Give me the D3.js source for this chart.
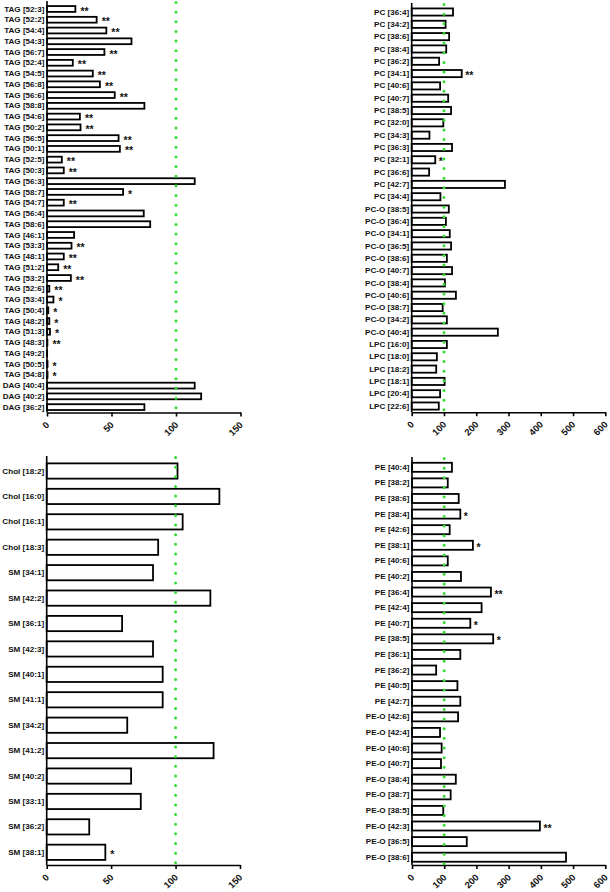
<!DOCTYPE html>
<html>
<head>
<meta charset="utf-8">
<script src="https://cdn.jsdelivr.net/npm/d3@7"></script>
<style>
  body { margin: 0; background: #fff; }
  svg { display: block; font-family: "Liberation Sans", Arial, sans-serif; font-weight: bold; }
</style>
</head>
<body>
<svg id="chart" width="610" height="892"></svg>
<script>
// ---- data ----
const tagLabels = ["TAG [52:3]", "TAG [52:2]", "TAG [54:4]", "TAG [54:3]", "TAG [56:7]", "TAG [52:4]",
  "TAG [54:5]", "TAG [56:8]", "TAG [56:6]", "TAG [58:8]", "TAG [54:6]", "TAG [50:2]", "TAG [56:5]",
  "TAG [50:1]", "TAG [52:5]", "TAG [50:3]", "TAG [56:3]", "TAG [58:7]", "TAG [54:7]", "TAG [56:4]",
  "TAG [58:6]", "TAG [46:1]", "TAG [53:3]", "TAG [48:1]", "TAG [51:2]", "TAG [53:2]", "TAG [52:6]",
  "TAG [53:4]", "TAG [50:4]", "TAG [48:2]", "TAG [51:3]", "TAG [48:3]", "TAG [49:2]", "TAG [50:5]",
  "TAG [54:8]", "DAG [40:4]", "DAG [40:2]", "DAG [36:2]"];
const tagValues = [22, 38.5, 46, 65.5, 44.5, 20, 35.5, 41, 52.5, 75.5, 25.5, 26, 55.5, 56.5, 11.5, 13,
  114.5, 59, 13, 75, 80, 21, 19, 13, 8.7, 18.5, 1.8, 5, 1, 1.8, 2.3, 0.3, 0.1, 0.4, 0.4,
  114.5, 119.5, 75.5];
const tagSig = ["**", "**", "**", "", "**", "**", "**", "**", "**", "", "**", "**", "**", "**", "**", "**",
  "", "*", "**", "", "", "", "**", "**", "**", "**", "**", "*", "*", "*", "*", "**", "", "*", "*",
  "", "", ""];

const pcLabels = ["PC [36:4]", "PC [34:2]", "PC [38:6]", "PC [38:4]", "PC [36:2]", "PC [34:1]",
  "PC [40:6]", "PC [40:7]", "PC [38:5]", "PC [32:0]", "PC [34:3]", "PC [36:3]", "PC [32:1]",
  "PC [36:6]", "PC [42:7]", "PC [34:4]", "PC-O [38:5]", "PC-O [36:4]", "PC-O [34:1]", "PC-O [36:5]",
  "PC-O [38:6]", "PC-O [40:7]", "PC-O [38:4]", "PC-O [40:6]", "PC-O [38:7]", "PC-O [34:2]",
  "PC-O [40:4]", "LPC [16:0]", "LPC [18:0]", "LPC [18:2]", "LPC [18:1]", "LPC [20:4]", "LPC [22:6]"];
const pcValues = [128, 105, 116, 107, 85, 155, 88, 113, 122, 98, 55, 125, 73, 54, 289, 89,
  115, 106, 118, 122, 109, 125, 103, 137, 96, 109, 267, 109, 78, 76, 102, 88, 84];
const pcSig = ["", "", "", "", "", "**", "", "", "", "", "", "", "*", "", "", "",
  "", "", "", "", "", "", "", "", "", "", "", "", "", "", "", "", ""];

const cholLabels = ["Chol [18:2]", "Chol [16:0]", "Chol [16:1]", "Chol [18:3]", "SM [34:1]", "SM [42:2]",
  "SM [36:1]", "SM [42:3]", "SM [40:1]", "SM [41:1]", "SM [34:2]", "SM [41:2]", "SM [40:2]",
  "SM [33:1]", "SM [36:2]", "SM [38:1]"];
const cholValues = [101.5, 134, 105.5, 86.5, 82.5, 127, 58.5, 82.5, 90, 90, 62.5, 129.5, 65.5, 73, 33, 45.5];
const cholSig = ["", "", "", "", "", "", "", "", "", "", "", "", "", "", "", "*"];

const peLabels = ["PE [40:4]", "PE [38:2]", "PE [38:6]", "PE [38:4]", "PE [42:6]", "PE [38:1]",
  "PE [40:6]", "PE [40:2]", "PE [36:4]", "PE [42:4]", "PE [40:7]", "PE [38:5]", "PE [36:1]",
  "PE [36:2]", "PE [40:5]", "PE [42:7]", "PE-O [42:6]", "PE-O [42:4]", "PE-O [40:6]", "PE-O [40:7]",
  "PE-O [38:4]", "PE-O [38:7]", "PE-O [38:5]", "PE-O [42:3]", "PE-O [36:5]", "PE-O [38:6]"];
const peValues = [124, 111, 145, 150, 117, 189, 111, 152, 245, 216, 181, 252, 150, 75, 141, 150,
  143, 87, 92, 90, 136, 120, 97, 397, 170, 478];
const peSig = ["", "", "", "*", "", "*", "", "", "**", "", "*", "*", "", "", "", "",
  "", "", "", "", "", "", "", "**", "", ""];

const ticksSmall = [0, 50, 100, 150];
const ticksLarge = [0, 100, 200, 300, 400, 500, 600];
const refValue = 100;

// ---- drawing ----
const svg = d3.select("#chart");

function drawPanel(labels, values, sig, ticks, box) {
  const g = svg.append("g");
  const x = d3.scaleLinear().domain([0, ticks[ticks.length - 1]]).range([box.x0, box.x1]);
  const y = d3.scaleBand().domain(labels).range([box.y0, box.y1])
    .paddingInner(box.pad).paddingOuter(box.pad / 2);
  const rows = labels.map((l, i) => ({ label: l, value: values[i], sig: sig[i] }));

  g.selectAll("rect.bar")
    .data(rows)
    .join("rect")
    .attr("class", "bar")
    .attr("x", x(0))
    .attr("y", d => y(d.label))
    .attr("width", d => x(d.value) - x(0))
    .attr("height", y.bandwidth())
    .attr("fill", "#fff")
    .attr("stroke", "#000")
    .attr("stroke-width", 1.8);

  g.selectAll("text.sig")
    .data(rows.filter(d => d.sig))
    .join("text")
    .attr("class", "sig")
    .attr("x", d => x(d.value) + box.gap)
    .attr("y", d => y(d.label) + y.bandwidth() / 2 + 5.6)
    .attr("font-size", 10.5)
    .attr("fill", "#111")
    .text(d => d.sig);

  // x axis
  const xa = g.append("g")
    .attr("transform", `translate(0,${box.y1})`)
    .call(d3.axisBottom(x).tickValues(ticks).tickSize(4).tickSizeOuter(0));
  xa.select(".domain").attr("stroke-width", 1.6);
  xa.selectAll(".tick line").attr("stroke-width", 1.6);
  xa.selectAll(".tick text")
    .attr("x", 0).attr("y", 0).attr("dy", 0)
    .attr("text-anchor", "end")
    .attr("transform", "translate(2.5,13) rotate(-45)")
    .attr("font-size", 9.3)
    .attr("font-family", null)
    .attr("fill", "#111");

  // y axis
  const ya = g.append("g")
    .attr("transform", `translate(${box.x0},0)`)
    .call(d3.axisLeft(y).tickSize(0).tickPadding(2.5));
  ya.select(".domain").attr("stroke-width", 1.6)
    .attr("d", `M0,${box.yTop}V${box.y1}`);
  ya.selectAll(".tick text")
    .attr("font-size", 8.1)
    .attr("font-family", null)
    .attr("fill", "#111");

  // dotted reference line at 100 (drawn above the bars)
  g.append("line")
    .attr("x1", x(refValue)).attr("x2", x(refValue))
    .attr("y1", box.yTop + 1.5).attr("y2", box.y1)
    .attr("stroke", "#33dd33")
    .attr("stroke-width", 3)
    .attr("stroke-linecap", "round")
    .attr("stroke-dasharray", "0 9.65");
}

drawPanel(tagLabels, tagValues, tagSig, ticksSmall,
  { x0: 47, x1: 240.5, y0: 3.6, y1: 412.5, yTop: 1, pad: 0.46, gap: 5 });
drawPanel(pcLabels, pcValues, pcSig, ticksLarge,
  { x0: 411.7, x1: 605.3, y0: 5.85, y1: 412.2, yTop: 3, pad: 0.42, gap: 3.5 });
drawPanel(cholLabels, cholValues, cholSig, ticksSmall,
  { x0: 46.7, x1: 240, y0: 458.3, y1: 865, yTop: 456, pad: 0.4, gap: 5 });
drawPanel(peLabels, peValues, peSig, ticksLarge,
  { x0: 412, x1: 605.3, y0: 459.5, y1: 865, yTop: 457, pad: 0.42, gap: 3.5 });
</script>
</body>
</html>
